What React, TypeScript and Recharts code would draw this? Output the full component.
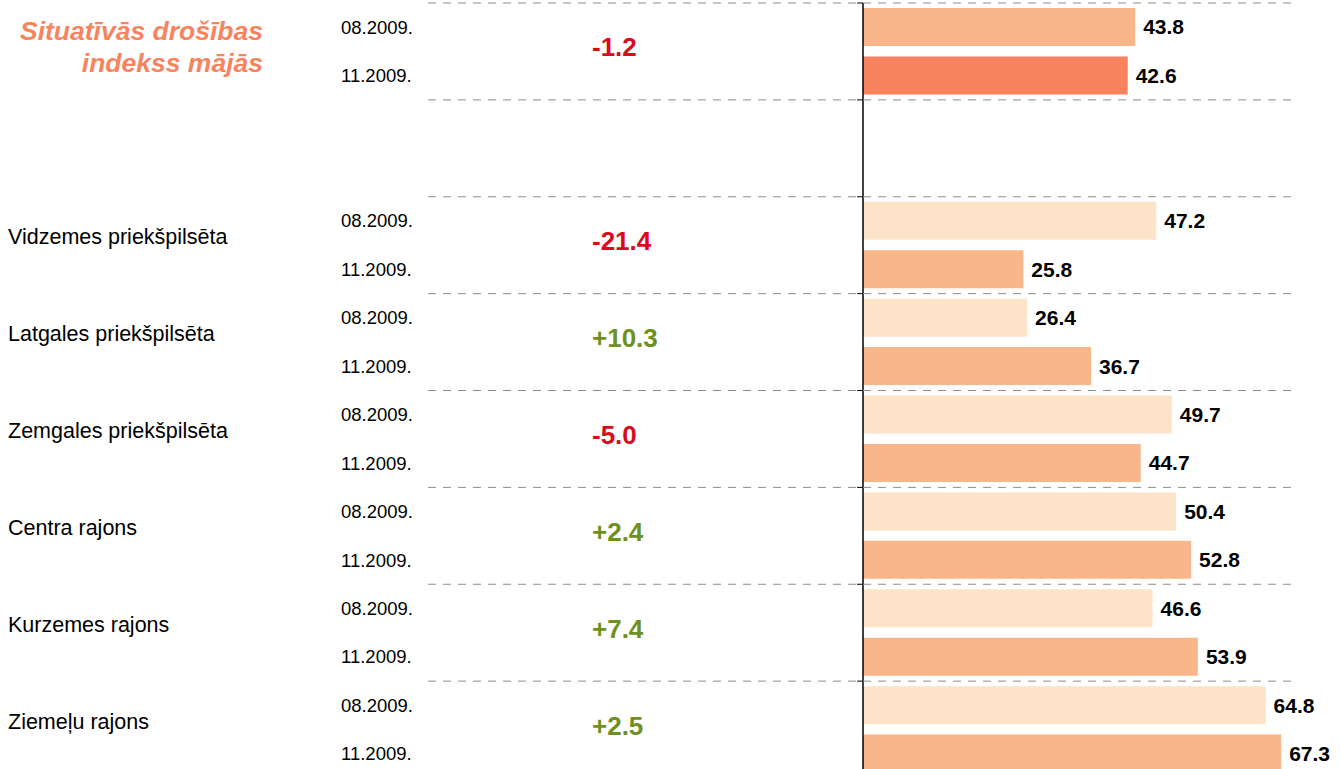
import React from "react";
import { BarChart, Bar, XAxis, YAxis, Cell, LabelList } from "recharts";

// grupas: kopējais indekss + rajoni
const districts = [
  "",
  "Vidzemes priekšpilsēta",
  "Latgales priekšpilsēta",
  "Zemgales priekšpilsēta",
  "Centra rajons",
  "Kurzemes rajons",
  "Ziemeļu rajons",
];
const periods = ["08.2009.", "11.2009."];
const aug2009 = [43.8, 47.2, 26.4, 49.7, 50.4, 46.6, 64.8];
const nov2009 = [42.6, 25.8, 36.7, 44.7, 52.8, 53.9, 67.3];
const changes = ["-1.2", "-21.4", "+10.3", "-5.0", "+2.4", "+7.4", "+2.5"];
const title = ["Situatīvās drošības", "indekss mājās"];

const FONT = "'Liberation Sans', Arial, sans-serif";
const WIDTH = 1341;
const HEIGHT = 778;
const TOP = 3;
const ROWS = 16;
const BAND = (HEIGHT - TOP) / ROWS;

const COLORS = {
  totalAug: "#F8B58A",
  totalNov: "#F7825D",
  aug: "#FDE3C8",
  nov: "#F8B68A",
  up: "#6E9021",
  down: "#DA0A1C",
  title: "#F7845E",
};

type Row = { key: string; group: number; sub: number; value: number | null };

const rows: Row[] = [];
districts.forEach((_, g) => {
  rows.push({ key: `${g}-0`, group: g, sub: 0, value: aug2009[g] });
  rows.push({ key: `${g}-1`, group: g, sub: 1, value: nov2009[g] });
  if (g === 0) {
    rows.push({ key: "gap-0", group: -1, sub: 0, value: null });
    rows.push({ key: "gap-1", group: -1, sub: 1, value: null });
  }
});
const rowByKey = new Map(rows.map((r) => [r.key, r]));

function barColor(r: Row) {
  if (r.group === 0) return r.sub === 0 ? COLORS.totalAug : COLORS.totalNov;
  return r.sub === 0 ? COLORS.aug : COLORS.nov;
}

function RowTick(props: any) {
  const { y, payload } = props;
  const r = rowByKey.get(payload.value);
  if (!r) return null;
  const top = y - BAND / 2;
  const mid = y + BAND / 2;
  const out: React.ReactNode[] = [];
  if (r.sub === 0) {
    out.push(
      <line key="sep" x1={428} x2={1295} y1={top} y2={top} stroke="#8c8c8c" strokeDasharray="8 7" />,
      <line key="tk" x1={857} x2={863} y1={top} y2={top} stroke="#000" />
    );
  }
  if (r.group >= 0) {
    out.push(
      <text key="d" x={341} y={y} dominantBaseline="central" fontSize={18.5} fill="#000" fontFamily={FONT}>
        {periods[r.sub]}
      </text>
    );
    if (r.sub === 0) {
      const ch = changes[r.group];
      out.push(
        <text
          key="c"
          x={592}
          y={mid - 4}
          dominantBaseline="central"
          fontSize={26}
          fontWeight="bold"
          fill={ch.startsWith("-") ? COLORS.down : COLORS.up}
          fontFamily={FONT}
        >
          {ch}
        </text>
      );
      if (districts[r.group]) {
        out.push(
          <text key="n" x={8} y={mid - 8} dominantBaseline="central" fontSize={21.5} fill="#000" fontFamily={FONT}>
            {districts[r.group]}
          </text>
        );
      }
    }
    if (r.group === 0 && r.sub === 0) {
      title.forEach((t, i) =>
        out.push(
          <text
            key={`t${i}`}
            x={263}
            y={y + 4 + i * 32}
            textAnchor="end"
            dominantBaseline="central"
            fontSize={26.5}
            fontWeight="bold"
            fontStyle="italic"
            fill={COLORS.title}
            fontFamily={FONT}
          >
            {t}
          </text>
        )
      );
    }
  }
  return <g>{out}</g>;
}

export default function App() {
  return (
    <div style={{ position: "absolute", left: 0, top: 0, width: WIDTH, height: 769, overflow: "hidden", background: "#fff" }}>
      <BarChart
        width={WIDTH}
        height={HEIGHT}
        data={rows}
        layout="vertical"
        margin={{ top: TOP, right: 12, bottom: 0, left: 0 }}
      >
        <XAxis type="number" domain={[0, 75]} hide />
        <YAxis
          type="category"
          dataKey="key"
          width={863}
          tick={<RowTick />}
          tickLine={false}
          axisLine={{ stroke: "#000", strokeWidth: 1.5 }}
          interval={0}
        />
        <Bar dataKey="value" barSize={38} isAnimationActive={false}>
          {rows.map((r) => (
            <Cell key={r.key} fill={barColor(r)} />
          ))}
          <LabelList
            dataKey="value"
            position="right"
            offset={8}
            fontSize={21}
            fontWeight="bold"
            fill="#000"
            fontFamily={FONT}
            formatter={(v: any) => (typeof v === "number" ? v.toFixed(1) : "")}
          />
        </Bar>
      </BarChart>
    </div>
  );
}
